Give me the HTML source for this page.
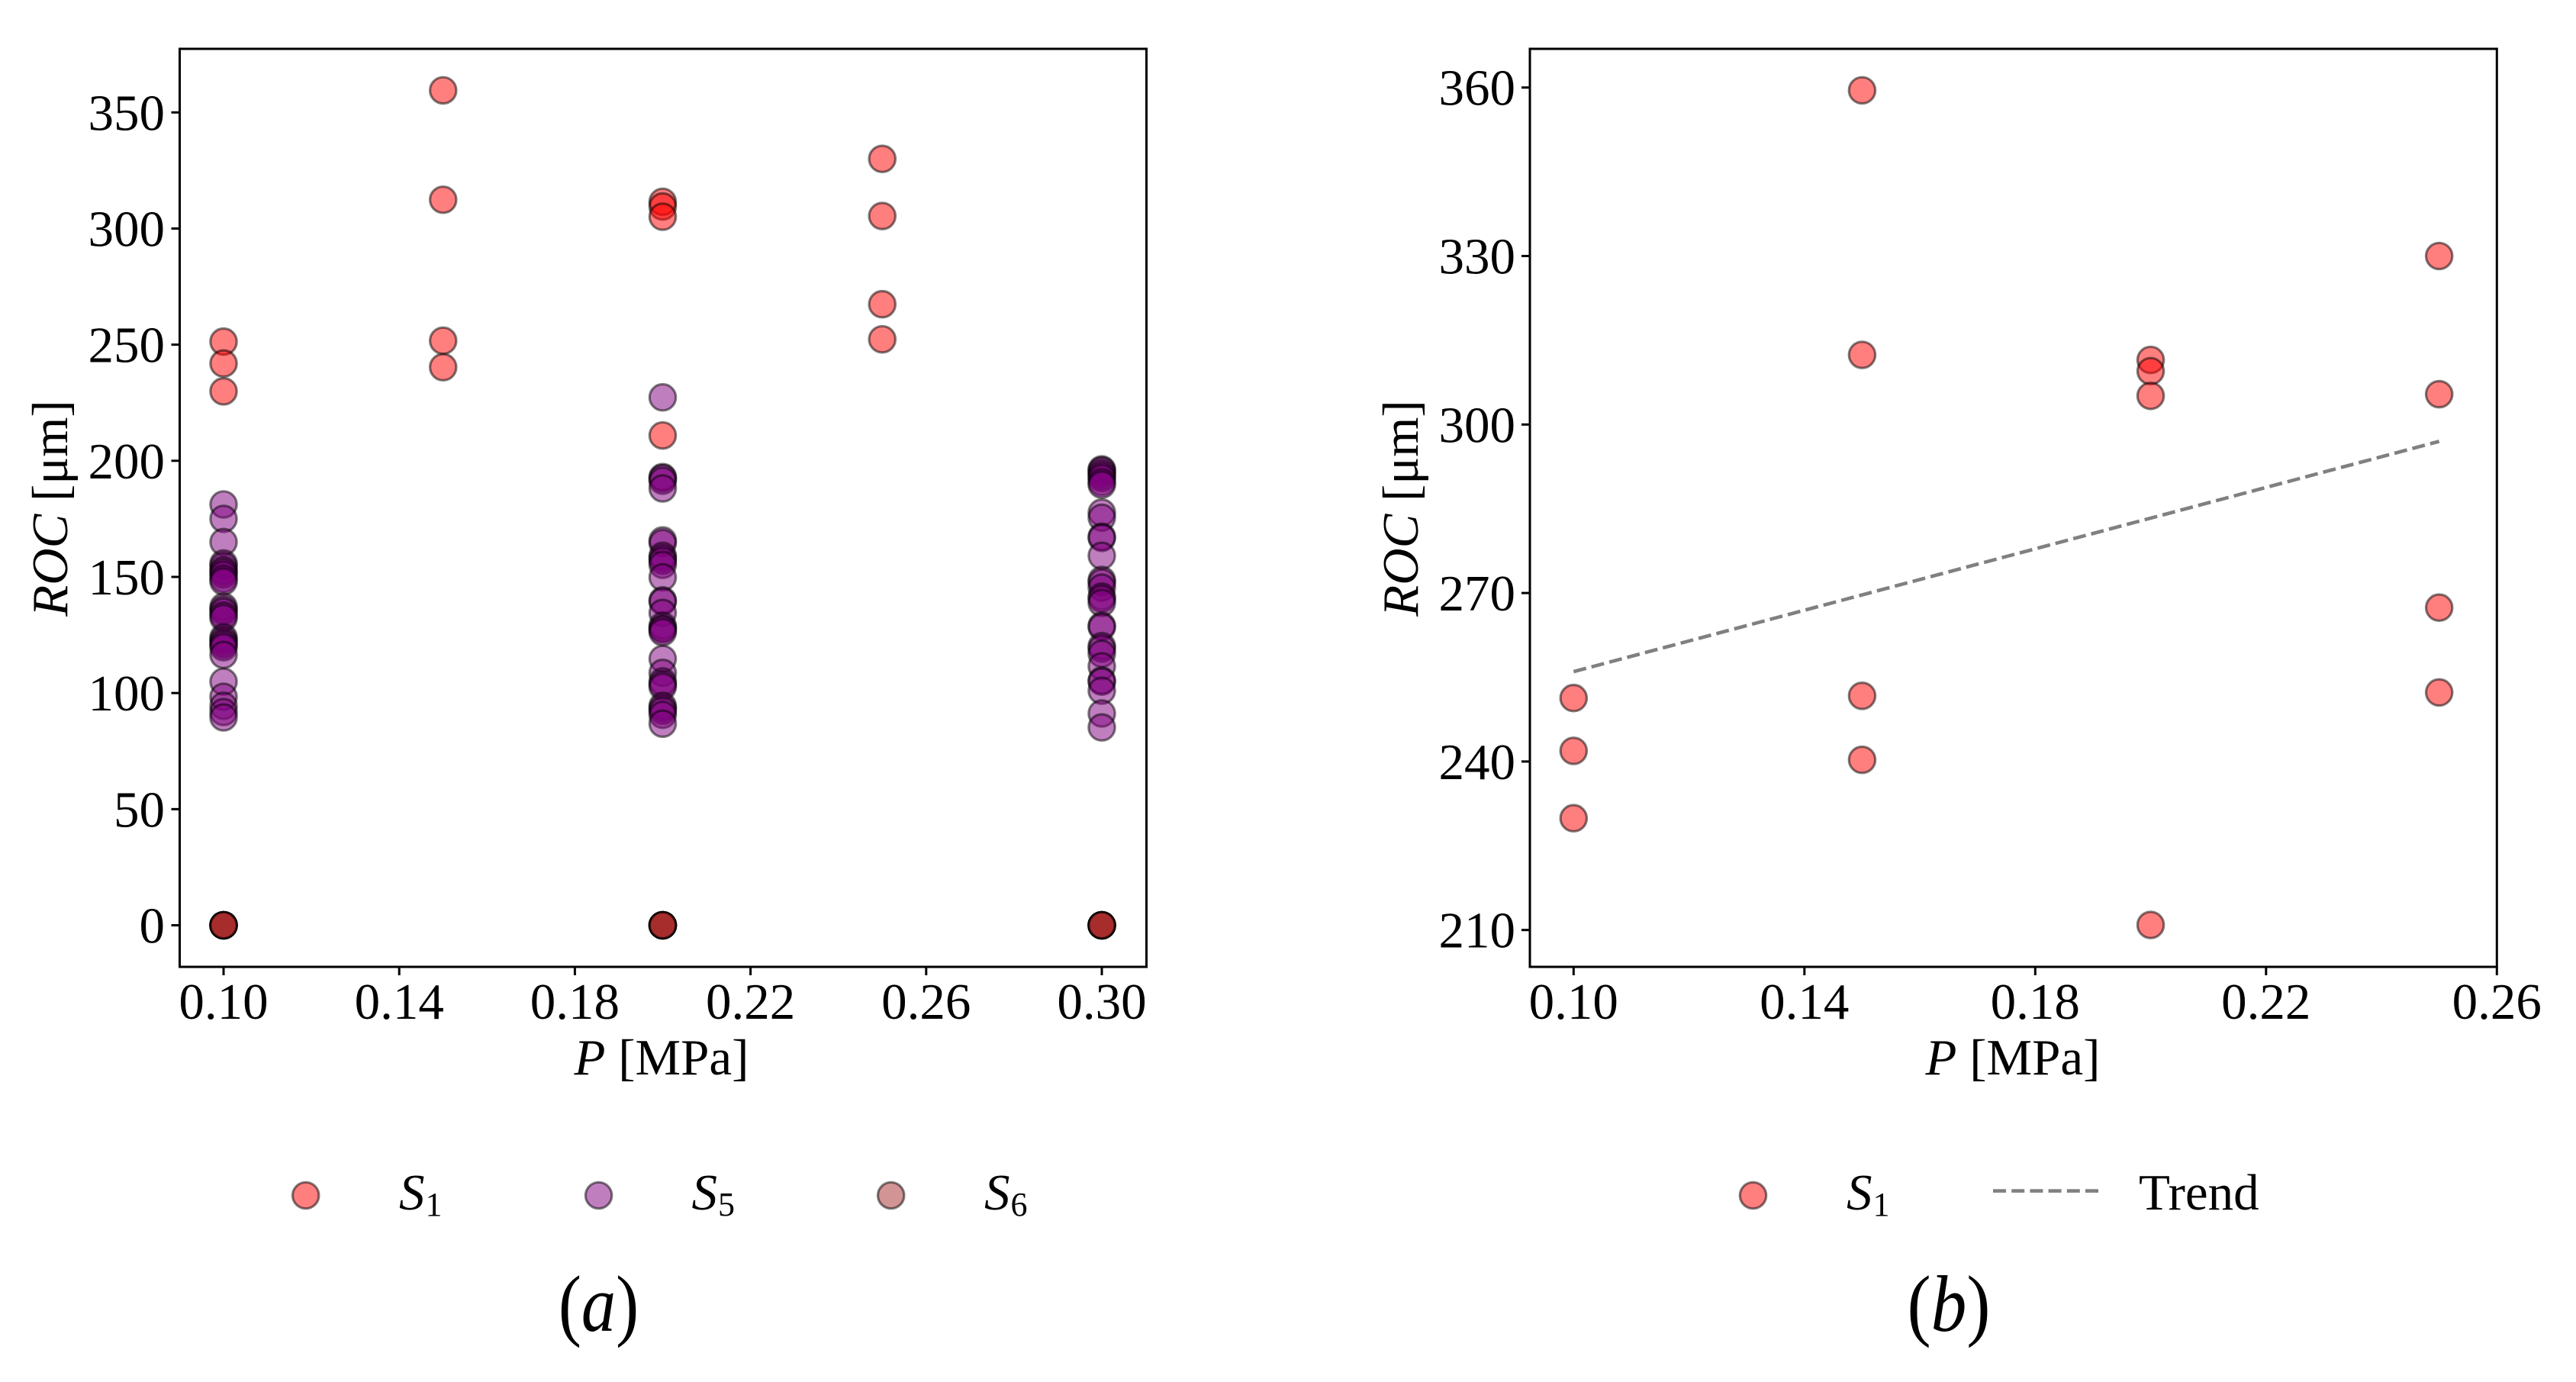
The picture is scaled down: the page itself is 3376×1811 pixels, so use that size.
<!DOCTYPE html>
<html lang="en">
<head>
<meta charset="utf-8">
<title>ROC versus P scatter panels</title>
<style>
  html, body { margin: 0; padding: 0; background: #ffffff; }
  svg { display: block; }
  text { font-family: "Liberation Serif", "DejaVu Serif", serif; fill: #000000; }
</style>
</head>
<body>
<svg id="figure" xmlns="http://www.w3.org/2000/svg" width="3376" height="1811" viewBox="0 0 3376 1811">
  <rect x="0" y="0" width="3376" height="1811" fill="#ffffff"/>

  <g id="panel-a">
    <g id="marks-a"></g>
    <rect x="235.5" y="64" width="1267" height="1203" fill="none" stroke="#000" stroke-width="3"/>
    <g id="ticks-a"></g>
    <text x="867" y="1408" font-size="67" text-anchor="middle"><tspan font-style="italic">P</tspan> [MPa]</text>
    <text transform="translate(88 666) rotate(-90)" font-size="67" text-anchor="middle"><tspan font-style="italic">ROC</tspan> [μm]</text>
    <g>
      <circle cx="400.7" cy="1566.5" r="17.2" fill="#ff0000" fill-opacity="0.5" stroke="#000" stroke-opacity="0.5" stroke-width="3.2"/>
      <text x="523" y="1585" font-size="67" font-style="italic">S<tspan font-size="44" font-style="normal" dx="1" dy="8">1</tspan></text>
    </g>
    <g>
      <circle cx="784.6" cy="1566.5" r="17.2" fill="#800080" fill-opacity="0.5" stroke="#000" stroke-opacity="0.5" stroke-width="3.2"/>
      <text x="906.5" y="1585" font-size="67" font-style="italic">S<tspan font-size="44" font-style="normal" dx="1" dy="8">5</tspan></text>
    </g>
    <g>
      <circle cx="1167.7" cy="1566.5" r="17.2" fill="#a52a2a" fill-opacity="0.5" stroke="#000" stroke-opacity="0.5" stroke-width="3.2"/>
      <text x="1290" y="1585" font-size="67" font-style="italic">S<tspan font-size="44" font-style="normal" dx="1" dy="8">6</tspan></text>
    </g>
    <text transform="translate(784.5 1744) scale(0.86 1)" font-size="105" text-anchor="middle">(<tspan font-style="italic">a</tspan>)</text>
  </g>

  <g id="panel-b">
    <g id="marks-b"></g>
    <rect x="2005" y="64" width="1267.3" height="1203" fill="none" stroke="#000" stroke-width="3"/>
    <g id="ticks-b"></g>
    <text x="2638" y="1408" font-size="67" text-anchor="middle"><tspan font-style="italic">P</tspan> [MPa]</text>
    <text transform="translate(1858 666) rotate(-90)" font-size="67" text-anchor="middle"><tspan font-style="italic">ROC</tspan> [μm]</text>
    <g>
      <circle cx="2297.5" cy="1566.5" r="17.2" fill="#ff0000" fill-opacity="0.5" stroke="#000" stroke-opacity="0.5" stroke-width="3.2"/>
      <text x="2420" y="1585" font-size="67" font-style="italic">S<tspan font-size="44" font-style="normal" dx="1" dy="8">1</tspan></text>
    </g>
    <g>
      <line x1="2612" y1="1560.6" x2="2750" y2="1560.6" stroke="#808080" stroke-width="4.6" stroke-dasharray="17 7.2"/>
      <text x="2803" y="1585" font-size="67">Trend</text>
    </g>
    <text transform="translate(2554 1744) scale(0.89 1)" font-size="105" text-anchor="middle">(<tspan font-style="italic">b</tspan>)</text>
  </g>
</svg>

<script>
// S1 readings, keyed by pressure
var s1Pressures = [0.10, 0.15, 0.20, 0.25];
var s1Roc010 = [251.3, 241.9, 229.9];
var s1Roc015 = [359.5, 312.4, 251.7, 240.3];
var s1Roc020 = [311.5, 309.5, 305.1, 210.9];
var s1Roc025 = [330, 305.4, 267.4, 252.3];

// S5 readings, keyed by pressure
var s5Pressures = [0.10, 0.20, 0.30];
var s5Roc010 = [181.2, 175, 165, 155.8, 154.7, 153, 152, 150.9, 149.2, 148, 137.2, 136, 135, 133.4, 132.3, 124, 122.9, 121.8, 120.8, 119.7, 116.4, 104.9, 98.4, 94.5, 91.8, 89.5];
var s5Roc020 = [227.3, 193, 192.5, 191.4, 188.1, 165.7, 164.6, 159.1, 158, 156.9, 155.2, 149.8, 139.9, 139.4, 134.5, 129, 127.9, 127.3, 126.2, 114.7, 108.7, 105, 103.8, 102.7, 94.5, 93.4, 92.3, 90.6, 86.8];
var s5Roc030 = [196.3, 195.8, 194.7, 193.6, 192.5, 190.8, 189.7, 177.7, 175.5, 167.3, 166.8, 159.1, 148.7, 147.6, 145.4, 141.5, 140.5, 138.8, 129, 128.4, 120.2, 119.1, 116.9, 111.5, 105.4, 104.9, 101, 91.2, 85.2];

// S6 readings, keyed by pressure
var s6Pressures = [0.10, 0.20, 0.30];
var s6Roc010 = [0, 0, 0, 0, 0, 0];
var s6Roc020 = [0, 0, 0, 0, 0, 0];
var s6Roc030 = [0, 0, 0, 0, 0, 0];

// Trend line
var trendPressures = [0.10, 0.25];
var trendRoc = [256, 297];

// Axis ticks
var xTicksA = [0.10, 0.14, 0.18, 0.22, 0.26, 0.30];
var xTickLabelsA = ['0.10', '0.14', '0.18', '0.22', '0.26', '0.30'];
var yTicksA = [0, 50, 100, 150, 200, 250, 300, 350];
var yTickLabelsA = ['0', '50', '100', '150', '200', '250', '300', '350'];
var xTicksB = [0.10, 0.14, 0.18, 0.22, 0.26];
var xTickLabelsB = ['0.10', '0.14', '0.18', '0.22', '0.26'];
var yTicksB = [210, 240, 270, 300, 330, 360];
var yTickLabelsB = ['210', '240', '270', '300', '330', '360'];

var SVG_NS = 'http://www.w3.org/2000/svg';

// Axis functions: panel (a)
function xA(p) { return 293 + (p - 0.10) * 5755; }
function yA(r) { return 1212.5 - r * 3.0434; }
// Axis functions: panel (b)
function xB(p) { return 2062.3 + (p - 0.10) * 7562.5; }
function yB(r) { return 1218.7 - (r - 210) * 7.36; }

function make(tag, attrs, parent) {
  var el = document.createElementNS(SVG_NS, tag);
  for (var k in attrs) { el.setAttribute(k, attrs[k]); }
  parent.appendChild(el);
  return el;
}

function drawPoints(parent, xFn, yFn, pressure, values, color, seriesName) {
  values.forEach(function (v) {
    var el = make('circle', {
      cx: xFn(pressure), cy: yFn(v), r: 17.2,
      fill: color, 'fill-opacity': 0.5,
      stroke: '#000', 'stroke-opacity': 0.5, 'stroke-width': 3.2
    }, parent);
    
    
  });
}

function drawXTicks(parent, xFn, ticks, labels) {
  ticks.forEach(function (t, i) {
    var line = make('line', { x1: xFn(t), x2: xFn(t), y1: 1267, y2: 1278, stroke: '#000', 'stroke-width': 3 }, parent);
    
    
    var txt = make('text', { x: xFn(t), y: 1335, 'font-size': 67, 'text-anchor': 'middle' }, parent);
    txt.textContent = labels[i];
    
    
  });
}

function drawYTicks(parent, yFn, ticks, labels, spineX, labelX) {
  ticks.forEach(function (t, i) {
    var line = make('line', { x1: spineX - 11, x2: spineX, y1: yFn(t), y2: yFn(t), stroke: '#000', 'stroke-width': 3 }, parent);
    
    
    var txt = make('text', { x: labelX, y: yFn(t) + 23, 'font-size': 67, 'text-anchor': 'end' }, parent);
    txt.textContent = labels[i];
    
    
  });
}

var s1Series = [s1Roc010, s1Roc015, s1Roc020, s1Roc025];
var s5Series = [s5Roc010, s5Roc020, s5Roc030];
var s6Series = [s6Roc010, s6Roc020, s6Roc030];

var marksA = document.getElementById('marks-a');
s1Pressures.forEach(function (p, i) { drawPoints(marksA, xA, yA, p, s1Series[i], '#ff0000', 's1'); });
s5Pressures.forEach(function (p, i) { drawPoints(marksA, xA, yA, p, s5Series[i], '#800080', 's5'); });
s6Pressures.forEach(function (p, i) { drawPoints(marksA, xA, yA, p, s6Series[i], '#a52a2a', 's6'); });

var marksB = document.getElementById('marks-b');
s1Pressures.forEach(function (p, i) { drawPoints(marksB, xB, yB, p, s1Series[i], '#ff0000', 's1'); });

var trendLine = make('line', {
  x1: xB(trendPressures[0]), y1: yB(trendRoc[0]),
  x2: xB(trendPressures[1]), y2: yB(trendRoc[1]),
  stroke: '#808080', 'stroke-width': 4.6, 'stroke-dasharray': '17 7.2'
}, marksB);



var ticksA = document.getElementById('ticks-a');
drawXTicks(ticksA, xA, xTicksA, xTickLabelsA);
drawYTicks(ticksA, yA, yTicksA, yTickLabelsA, 235.5, 216);

var ticksB = document.getElementById('ticks-b');
drawXTicks(ticksB, xB, xTicksB, xTickLabelsB);
drawYTicks(ticksB, yB, yTicksB, yTickLabelsB, 2005, 1986);
</script>
</body>
</html>
